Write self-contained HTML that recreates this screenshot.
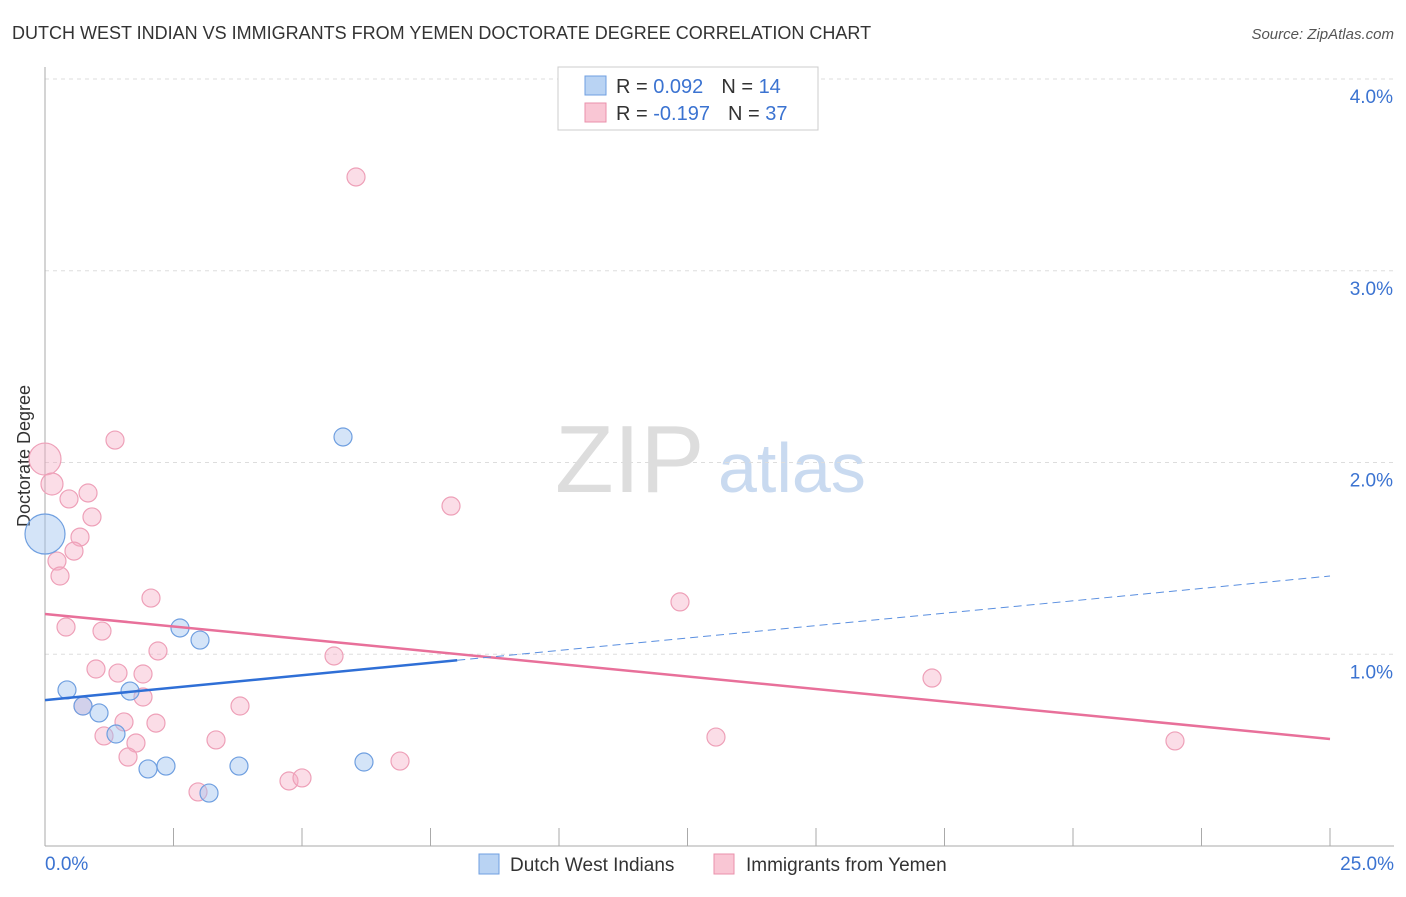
<!DOCTYPE html>
<html><head><meta charset="utf-8"><style>
body{margin:0;background:#fff;font-family:"Liberation Sans",sans-serif;}
svg text{font-family:"Liberation Sans",sans-serif;}
</style></head><body>
<svg id="chart" width="1406" height="892">
<text x="12" y="39" font-size="18" fill="#333">DUTCH WEST INDIAN VS IMMIGRANTS FROM YEMEN DOCTORATE DEGREE CORRELATION CHART</text>
<text x="1394" y="39" font-size="15" fill="#555" font-style="italic" text-anchor="end">Source: ZipAtlas.com</text>
<text x="30" y="456" font-size="18" fill="#333" text-anchor="middle" transform="rotate(-90 30 456)">Doctorate Degree</text>
<text x="555" y="492" font-size="96" fill="#ddd" font-family="Liberation Serif">ZIP</text>
<text x="718" y="492" font-size="70" fill="#c9daf0">atlas</text>
<g id="grid"></g><g id="axes"></g><g id="marks"></g>
<g>
<rect x="558" y="67" width="260" height="63" fill="#fff" stroke="#ccc"/>
<rect x="585" y="76" width="21" height="19" fill="#b9d3f3" stroke="#6f9fe0"/>
<rect x="585" y="103" width="21" height="19" fill="#f9c6d4" stroke="#ea90ab"/>
<text x="616" y="93" font-size="20" fill="#333">R = <tspan fill="#3b73d1">0.092</tspan><tspan dx="18">N = </tspan><tspan fill="#3b73d1">14</tspan></text>
<text x="616" y="120" font-size="20" fill="#333">R = <tspan fill="#3b73d1">-0.197</tspan><tspan dx="18">N = </tspan><tspan fill="#3b73d1">37</tspan></text>
</g>
<g>
<rect x="479" y="854" width="20" height="20" fill="#b9d3f3" stroke="#6f9fe0"/>
<text x="510" y="871" font-size="19" fill="#333">Dutch West Indians</text>
<rect x="714" y="854" width="20" height="20" fill="#f9c6d4" stroke="#ea90ab"/>
<text x="746" y="871" font-size="19" fill="#333">Immigrants from Yemen</text>
</g>
</svg>
<script>
const yTicks=[1,2,3,4];
const yTickLabels=["1.0%","2.0%","3.0%","4.0%"];
const xTickLabels=["0.0%","25.0%"];
const blueX=[0,0.428,0.739,1.051,1.381,1.654,2.004,2.354,2.626,3.016,3.191,3.774,5.798,6.206];
const blueY=[1.627,0.814,0.730,0.694,0.584,0.808,0.402,0.417,1.137,1.074,0.276,0.417,2.133,0.438];
const blueR=[20,9,9,9,9,9,9,9,9,9,9,9,9,9];
const pinkX=[0,0.136,0.467,0.837,1.362,0.914,0.681,0.564,0.233,0.292,0.409,1.109,2.062,0.992,1.420,1.907,2.198,1.907,0.739,1.537,2.159,1.148,1.770,1.615,3.794,3.327,2.977,4.747,5.000,5.623,6.051,6.907,7.899,12.354,13.054,17.257,21.984];
const pinkY=[2.018,1.888,1.810,1.841,2.117,1.716,1.611,1.538,1.486,1.408,1.142,1.121,1.293,0.923,0.902,0.897,1.017,0.777,0.730,0.647,0.641,0.574,0.537,0.464,0.730,0.553,0.282,0.339,0.355,0.991,3.489,0.443,1.773,1.273,0.568,0.876,0.548];
const pinkR=[16,11,9,9,9,9,9,9,9,9,9,9,9,9,9,9,9,9,9,9,9,9,9,9,9,9,9,9,9,9,9,9,9,9,9,9,9];
const blueTrend=[0.761,1.408]; const blueSolidEnd=8.02;
const pinkTrend=[1.210,0.558];
const X=v=>45+v/25*1285, Y=v=>846-v*191.75;
const NS="http://www.w3.org/2000/svg";
function mk(tag,attrs,parent){const e=document.createElementNS(NS,tag);for(const k in attrs)e.setAttribute(k,attrs[k]);document.getElementById(parent).appendChild(e);return e;}
yTicks.forEach((t,i)=>{
 const l=mk('line',{x1:45,x2:1394,y1:Y(t),y2:Y(t),stroke:'#ddd','stroke-dasharray':'4,4'},'grid');
 
 
 const tx=mk('text',{x:1393,y:Y(t)+24,'font-size':19,fill:'#3b73d1','text-anchor':'end'},'axes');
 tx.textContent=yTickLabels[i];
 
 
});
const ax=mk('line',{x1:45,x2:45,y1:67,y2:846,stroke:'#aaa'},'axes');


const bx=mk('line',{x1:45,x2:1394,y1:846,y2:846,stroke:'#aaa'},'axes');


for(let i=1;i<=10;i++){const tk=mk('line',{x1:X(i*2.5),x2:X(i*2.5),y1:828,y2:846,stroke:'#aaa'},'axes');
 
 }
[[0,'start',45],[25,'end',1394]].forEach((d,i)=>{const t=mk('text',{x:d[2],y:870,'font-size':19,fill:'#3b73d1','text-anchor':d[1]},'axes');t.textContent=xTickLabels[i];
 
 });
pinkX.forEach((x,i)=>{const c=mk('circle',{cx:X(x),cy:Y(pinkY[i]),r:pinkR[i],fill:'rgba(246,170,195,0.4)',stroke:'#eea0b8','stroke-width':1.2},'marks');
 
 });
blueX.forEach((x,i)=>{const c=mk('circle',{cx:X(x),cy:Y(blueY[i]),r:blueR[i],fill:'rgba(160,195,240,0.45)',stroke:'#6f9fe0','stroke-width':1.2},'marks');
 
 });
const bAt=v=>blueTrend[0]+(blueTrend[1]-blueTrend[0])*v/25;
const pl=mk('line',{x1:X(0),y1:Y(pinkTrend[0]),x2:X(25),y2:Y(pinkTrend[1]),stroke:'#e8709a','stroke-width':2.5},'marks');


const bl=mk('line',{x1:X(0),y1:Y(bAt(0)),x2:X(blueSolidEnd),y2:Y(bAt(blueSolidEnd)),stroke:'#2f6fd6','stroke-width':2.5},'marks');


const bd=mk('line',{x1:X(blueSolidEnd),y1:Y(bAt(blueSolidEnd)),x2:X(25),y2:Y(bAt(25)),stroke:'#5a8fe0','stroke-width':1,'stroke-dasharray':'8,5'},'marks');


</script>
</body></html>
